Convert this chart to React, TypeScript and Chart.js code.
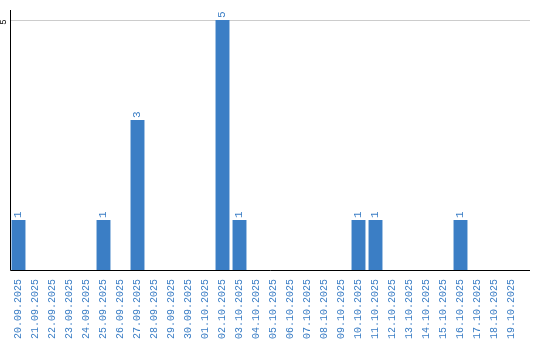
import React, { useEffect, useRef } from "react";
import { Chart, registerables } from "chart.js";

Chart.register(...registerables);

const dates: string[] = [
  "20.09.2025", "21.09.2025", "22.09.2025", "23.09.2025", "24.09.2025",
  "25.09.2025", "26.09.2025", "27.09.2025", "28.09.2025", "29.09.2025",
  "30.09.2025", "01.10.2025", "02.10.2025", "03.10.2025", "04.10.2025",
  "05.10.2025", "06.10.2025", "07.10.2025", "08.10.2025", "09.10.2025",
  "10.10.2025", "11.10.2025", "12.10.2025", "13.10.2025", "14.10.2025",
  "15.10.2025", "16.10.2025", "17.10.2025", "18.10.2025", "19.10.2025",
];
const counts: number[] = [
  1, 0, 0, 0, 0,
  1, 0, 3, 0, 0,
  0, 0, 5, 1, 0,
  0, 0, 0, 0, 0,
  1, 1, 0, 0, 0,
  0, 1, 0, 0, 0,
];
const yTicks: number[] = [5];
const yMax = 5.2;

const BLUE = "#3b7ec5";
const FONT = "'Liberation Mono', 'DejaVu Sans Mono', monospace";

const decor = {
  id: "decor",
  beforeDatasetsDraw(chart: any) {
    const { ctx, chartArea, scales } = chart;
    ctx.save();
    ctx.strokeStyle = "#cccccc";
    ctx.lineWidth = 1;
    yTicks.forEach((t) => {
      const y = Math.round(scales.y.getPixelForValue(t)) + 0.5;
      ctx.beginPath();
      ctx.moveTo(chartArea.left, y);
      ctx.lineTo(chartArea.right + 10, y);
      ctx.stroke();
    });
    ctx.restore();
  },
  afterDatasetsDraw(chart: any) {
    const { ctx, chartArea, scales } = chart;
    ctx.save();
    ctx.strokeStyle = "#000000";
    ctx.lineWidth = 1;
    ctx.beginPath();
    ctx.moveTo(chartArea.left + 0.5, chartArea.top);
    ctx.lineTo(chartArea.left + 0.5, chartArea.bottom + 0.5);
    ctx.lineTo(chartArea.right + 10, chartArea.bottom + 0.5);
    ctx.stroke();
    ctx.fillStyle = "#000000";
    ctx.font = "9px " + FONT;
    ctx.textAlign = "center";
    ctx.textBaseline = "middle";
    yTicks.forEach((t) => {
      const y = scales.y.getPixelForValue(t);
      ctx.save();
      ctx.translate(chartArea.left - 6, y + 2);
      ctx.rotate(-Math.PI / 2);
      ctx.fillText(String(t), 0, 0);
      ctx.restore();
    });
    const meta = chart.getDatasetMeta(0);
    ctx.fillStyle = BLUE;
    ctx.font = "11px " + FONT;
    ctx.textAlign = "left";
    ctx.textBaseline = "middle";
    meta.data.forEach((bar: any, i: number) => {
      const v = counts[i];
      if (!v) return;
      ctx.save();
      ctx.translate(bar.x, bar.y - 2);
      ctx.rotate(-Math.PI / 2);
      ctx.fillText(String(v), 0, 0);
      ctx.restore();
    });
    ctx.restore();
  },
};

export default function App() {
  const ref = useRef<HTMLCanvasElement | null>(null);
  useEffect(() => {
    if (!ref.current) return;
    const chart = new Chart(ref.current, {
      type: "bar",
      data: {
        labels: dates,
        datasets: [
          {
            data: counts,
            backgroundColor: BLUE,
            borderWidth: 0,
            categoryPercentage: 1,
            barPercentage: 0.82,
          },
        ],
      },
      options: {
        animation: false,
        responsive: false,
        events: [],
        layout: { padding: { left: 0, right: 20, top: 10, bottom: 0 } },
        plugins: { legend: { display: false }, tooltip: { enabled: false } },
        scales: {
          x: {
            grid: { display: false, drawTicks: false, tickLength: 0 },
            border: { display: false },
            ticks: {
              autoSkip: false,
              minRotation: 90,
              maxRotation: 90,
              padding: 9,
              color: BLUE,
              font: { family: FONT, size: 10 },
            },
            afterFit(scale: any) {
              scale.height = 70;
            },
          },
          y: {
            min: 0,
            max: yMax,
            grid: { display: false },
            border: { display: false },
            ticks: { display: false },
            afterFit(scale: any) {
              scale.width = 10;
            },
          },
        },
      },
      plugins: [decor],
    });
    return () => chart.destroy();
  }, []);
  return (
    <div style={{ position: "absolute", left: 0, top: 0, width: 540, height: 340, background: "#fff" }}>
      <canvas ref={ref} width={540} height={340} />
    </div>
  );
}
